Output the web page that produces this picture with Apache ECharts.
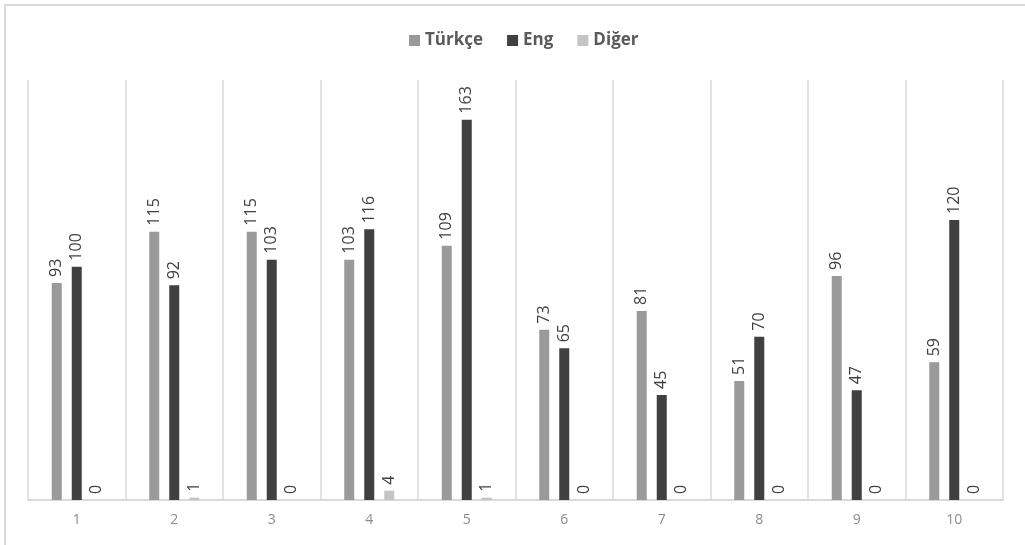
<!DOCTYPE html>
<html><head><meta charset="utf-8">
<script src="https://cdn.jsdelivr.net/npm/echarts@6/dist/echarts.min.js"></script>
<style>
html,body{margin:0;padding:0;background:#fff;}
#frame{position:absolute;left:4px;top:4px;width:1030px;height:560px;border-left:2px solid #d9d9d9;border-top:2px solid #d9d9d9;box-sizing:border-box;}
#c{position:absolute;left:0;top:0;width:1025px;height:545px;}
</style></head>
<body>
<div id="frame"></div>
<div id="c"></div>
<script>
const categories = ['1','2','3','4','5','6','7','8','9','10'];
const turkce = [93,115,115,103,109,73,81,51,96,59];
const eng = [100,92,103,116,163,65,45,70,47,120];
const diger = [0,1,0,4,1,0,0,0,0,0];
const seriesNames = ['Türkçe','Eng','Diğer'];
const colors = ['#9a9a9a','#404040','#c4c4c4'];

const chart = echarts.init(document.getElementById('c'));
const label = {show:true, position:'top', rotate:90, align:'left', verticalAlign:'middle', distance:6,
  color:'#404040', fontSize:16, fontFamily:'Open Sans'};
function mk(name, data, i){
  return {name, type:'bar', data, barWidth:10, barGap:'100%', itemStyle:{color:colors[i]}, label, emphasis:{disabled:true}};
}
chart.setOption({
  animation:false,
  textStyle:{fontFamily:'Open Sans'},
  legend:{top:27, left:404, itemWidth:11, itemHeight:11, itemGap:24,
    icon:'rect', textStyle:{color:'#5a5a5a', fontSize:17, fontWeight:'bold', fontFamily:'Open Sans'},
    data:seriesNames},
  grid:{left:28, right:22, top:80, bottom:45},
  xAxis:{type:'category', data:categories,
    axisLine:{lineStyle:{color:'#d9d9d9', width:2}}, axisTick:{show:false},
    splitLine:{show:true, lineStyle:{color:'#d9d9d9', width:1.5}},
    axisLabel:{color:'#8c8c8c', fontSize:14, margin:13}},
  yAxis:{type:'value', min:0, max:180, show:false, splitLine:{show:false}},
  series:[mk(seriesNames[0],turkce,0), mk(seriesNames[1],eng,1), mk(seriesNames[2],diger,2)]
});
</script>
</body></html>
